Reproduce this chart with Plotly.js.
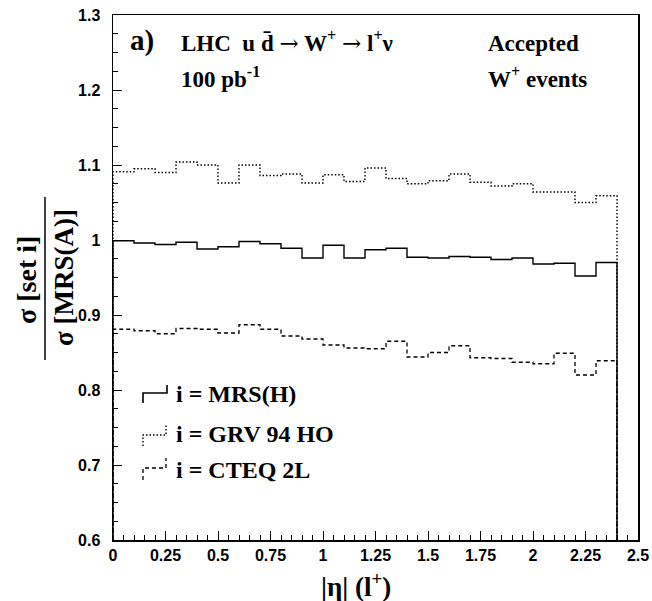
<!DOCTYPE html>
<html>
<head>
<meta charset="utf-8">
<script src="https://cdn.plot.ly/plotly-3.0.1.min.js"></script>
<style>html,body{margin:0;padding:0;background:#fff;}#chart{width:652px;height:601px;}</style>
</head>
<body>
<div id="chart"></div>
<script>
// Bin layout: 24 bins of width 0.1 in |eta|, from 0 to 2.4
const binWidth = 0.1;
const nBins = 24;
const binEdges = Array.from({length: nBins + 1}, (_, i) => +(i * binWidth).toFixed(2));

// Ratio sigma[set i] / sigma[MRS(A)] per bin
const mrsH = [0.999, 0.996, 0.994, 0.997, 0.988, 0.991, 0.998, 0.995, 0.989, 0.976,
              0.993, 0.976, 0.987, 0.989, 0.977, 0.976, 0.978, 0.977, 0.974, 0.976,
              0.968, 0.969, 0.952, 0.970];
const grv94 = [1.091, 1.095, 1.090, 1.104, 1.100, 1.076, 1.100, 1.086, 1.088, 1.076,
               1.087, 1.078, 1.096, 1.082, 1.075, 1.079, 1.088, 1.077, 1.072, 1.075,
               1.064, 1.064, 1.050, 1.059];
const cteq2L = [0.881, 0.879, 0.875, 0.882, 0.881, 0.876, 0.887, 0.881, 0.872, 0.868,
                0.860, 0.856, 0.855, 0.865, 0.844, 0.850, 0.859, 0.843, 0.842, 0.837,
                0.835, 0.849, 0.820, 0.839];

const seriesNames = ['i = MRS(H)', 'i = GRV 94 HO', 'i = CTEQ 2L'];
const xTickVals = [0, 0.25, 0.5, 0.75, 1, 1.25, 1.5, 1.75, 2, 2.25, 2.5];
const yTickVals = [0.6, 0.7, 0.8, 0.9, 1, 1.1, 1.2, 1.3];

const xRange = [0, 2.5];
const yRange = [0.6, 1.3];

// ROOT-style histogram outline: rises from axis floor, steps, drops back to floor
function stepLine(edges, vals, floor) {
  const x = [edges[0]], y = [floor];
  for (let i = 0; i < vals.length; i++) {
    x.push(edges[i], edges[i + 1]);
    y.push(vals[i], vals[i]);
  }
  x.push(edges[edges.length - 1]);
  y.push(floor);
  return {x, y};
}

const styles = [
  {dash: 'solid', width: 1.4},
  {dash: '1.5px,2px', width: 1.4},
  {dash: '4px,3px', width: 1.3}
];
const allVals = [mrsH, grv94, cteq2L];

const traces = allVals.map((v, k) => {
  const s = stepLine(binEdges, v, yRange[0]);
  return {
    x: s.x, y: s.y, type: 'scatter', mode: 'lines', name: seriesNames[k],
    line: {color: '#000', width: styles[k].width, dash: styles[k].dash},
    showlegend: false, hoverinfo: 'skip'
  };
});

// Pixel helpers for the decorations (plot area: x 113..638, y 15..540)
const L = 113, R = 638, T = 15, B = 540;
const px = x => (x - L) / (R - L);
const py = y => (B - y) / (B - T);

const serif = 'Liberation Serif, Times New Roman, serif';
function ann(text, x, y, size, opts) {
  return Object.assign({
    text: text, xref: 'paper', yref: 'paper', x: px(x), y: py(y),
    showarrow: false, xanchor: 'left', yanchor: 'middle',
    font: {family: serif, size: size, color: '#000'}
  }, opts || {});
}

const arrow = '<span style="font-family:DejaVu Serif;font-weight:normal">\u2192</span>';

const annotations = [
  ann('<b>a)</b>', 128, 40, 29),
  ann('<b>LHC  u d\u0304 ' + arrow + ' W<sup>+</sup> ' + arrow + ' l<sup>+</sup>\u03bd</b>', 179, 42, 23),
  ann('<b>100 pb<sup>-1</sup></b>', 179, 77, 23),
  ann('<b>Accepted</b>', 486, 44, 23),
  ann('<b>W<sup>+</sup> events</b>', 486, 77, 23),
  ann('<b>' + seriesNames[0] + '</b>', 174, 394, 24),
  ann('<b>' + seriesNames[1] + '</b>', 174, 434, 24),
  ann('<b>' + seriesNames[2] + '</b>', 174, 470, 24),
  ann('<b>|\u03b7| (l<sup>+</sup>)</b>', 356, 585, 27, {xanchor: 'center'}),
  ann('<b>\u03c3 [set i]</b>', 26, 280, 28, {xanchor: 'center', textangle: -90}),
  ann('<b>\u03c3 [MRS(A)]</b>', 64, 278, 27, {xanchor: 'center', textangle: -90})
];

function legPath(x1, x2, yLow, yMid, yTop) {
  return 'M' + px(x1) + ',' + py(yLow) + ' L' + px(x1) + ',' + py(yMid) +
         ' L' + px(x2) + ',' + py(yMid) + ' L' + px(x2) + ',' + py(yTop);
}

const shapes = [
  {type: 'line', xref: 'paper', yref: 'paper', x0: px(45), x1: px(45), y0: py(197), y1: py(360),
   line: {color: '#000', width: 1.5}},
  {type: 'path', xref: 'paper', yref: 'paper', path: legPath(143, 167, 403, 393, 385),
   line: {color: '#000', width: 1.6, dash: 'solid'}},
  {type: 'path', xref: 'paper', yref: 'paper', path: legPath(143, 166, 446, 435, 425),
   line: {color: '#000', width: 1.4, dash: '1.5px,2px'}},
  {type: 'path', xref: 'paper', yref: 'paper', path: legPath(143, 166, 480, 468, 458),
   line: {color: '#000', width: 1.3, dash: '4px,3px'}}
];

const tickFont = {family: 'Liberation Sans, Arial, sans-serif', size: 16, color: '#000', weight: 'bold'};

const layout = {
  width: 652, height: 601,
  margin: {l: L, r: 652 - R, t: T, b: 601 - B},
  paper_bgcolor: '#fff', plot_bgcolor: '#fff',
  showlegend: false,
  xaxis: {
    range: xRange, tickmode: 'array', tickvals: xTickVals,
    ticktext: xTickVals.map(v => String(v)),
    ticks: 'inside', ticklen: 9, tickwidth: 1, tickcolor: '#000',
    minor: {dtick: 0.05, tick0: 0, ticks: 'inside', ticklen: 5, tickwidth: 1, tickcolor: '#000', showgrid: false},
    showline: true, mirror: true, linecolor: '#000', linewidth: 1.5,
    showgrid: false, zeroline: false, tickfont: tickFont
  },
  yaxis: {
    range: yRange, tickmode: 'array', tickvals: yTickVals,
    ticktext: yTickVals.map(v => String(v)),
    ticks: 'inside', ticklen: 9, tickwidth: 1, tickcolor: '#000',
    minor: {dtick: 0.025, tick0: 0.6, ticks: 'inside', ticklen: 5, tickwidth: 1, tickcolor: '#000', showgrid: false},
    showline: true, mirror: true, linecolor: '#000', linewidth: 1.5,
    showgrid: false, zeroline: false, tickfont: tickFont, ticklabelstandoff: 8
  },
  annotations: annotations,
  shapes: shapes
};

Plotly.newPlot('chart', traces, layout, {staticPlot: true, displayModeBar: false});
</script>
</body>
</html>
